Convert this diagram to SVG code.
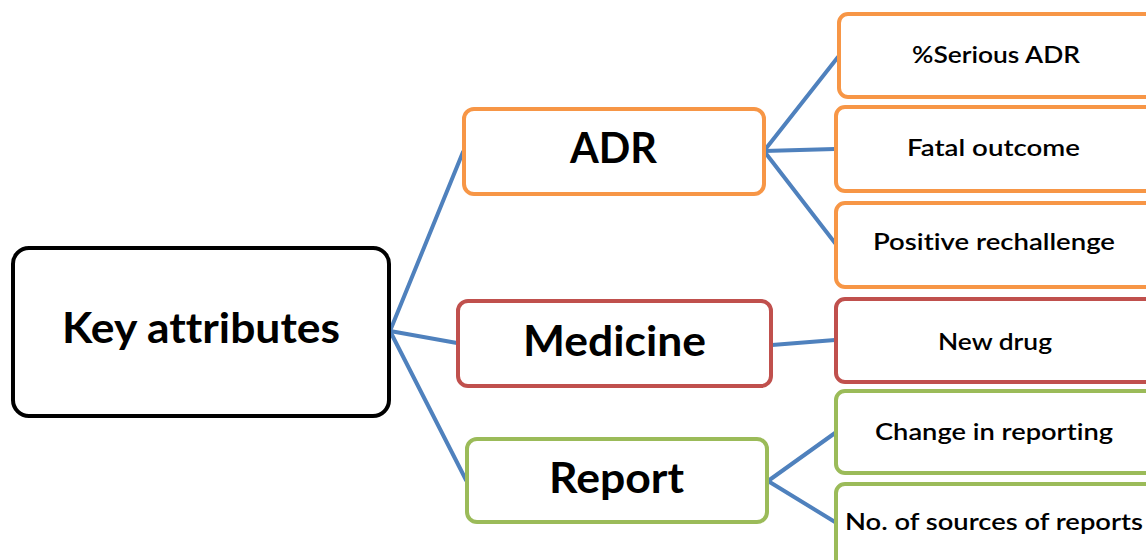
<svg xmlns="http://www.w3.org/2000/svg" width="1146" height="560" viewBox="0 0 1146 560">
<style>
.box{fill:#fff;stroke-width:4}
.k{stroke:#000}
.o{stroke:#F79646}
.r{stroke:#C0504D}
.g{stroke:#9BBB59}
text{font-variant-ligatures:none}
.t1{font-family:Lato,"Liberation Sans",sans-serif;font-weight:bold;fill:#000;text-anchor:middle;font-size:42px}
.t2{font-family:Lato,"Liberation Sans",sans-serif;font-weight:600;fill:#000;text-anchor:middle;font-size:23px}
#connectors line{stroke:#4F81BD;stroke-width:4;stroke-linecap:round}
</style>
<rect width="1146" height="560" fill="#fff"/>
<g id="connectors">
<line x1="390" y1="331" x2="463" y2="152"/>
<line x1="390" y1="331" x2="457" y2="343"/>
<line x1="390" y1="331" x2="466" y2="480"/>
<line x1="764" y1="151" x2="838" y2="57"/>
<line x1="764" y1="151" x2="835" y2="149"/>
<line x1="764" y1="151" x2="835" y2="243"/>
<line x1="772" y1="345" x2="835" y2="340"/>
<line x1="768" y1="481" x2="835" y2="433"/>
<line x1="768" y1="481" x2="835" y2="522"/>
</g>
<g id="key">
<rect class="box k" x="13" y="248" width="376" height="168" rx="16"/>
<text class="t1" x="201" y="343" textLength="278" lengthAdjust="spacingAndGlyphs">Key attributes</text>
</g>
<g id="adr">
<rect class="box o" x="464" y="109" width="300" height="85" rx="10"/>
<text class="t1" x="613.5" y="163" textLength="87" lengthAdjust="spacingAndGlyphs">ADR</text>
</g>
<g id="medicine">
<rect class="box r" x="458" y="301" width="313" height="85" rx="10"/>
<text class="t1" x="614.5" y="356" textLength="183" lengthAdjust="spacingAndGlyphs">Medicine</text>
</g>
<g id="report">
<rect class="box g" x="467" y="439" width="300" height="83" rx="10"/>
<text class="t1" x="616.5" y="493" textLength="135" lengthAdjust="spacingAndGlyphs">Report</text>
</g>
<g id="serious">
<rect class="box o" x="839" y="14" width="320" height="83" rx="9"/>
<text class="t2" x="996" y="63" textLength="168" lengthAdjust="spacingAndGlyphs">%Serious ADR</text>
</g>
<g id="fatal">
<rect class="box o" x="836" y="107" width="320" height="84" rx="9"/>
<text class="t2" x="993.5" y="156" textLength="173" lengthAdjust="spacingAndGlyphs">Fatal outcome</text>
</g>
<g id="positive">
<rect class="box o" x="836" y="203" width="320" height="84" rx="9"/>
<text class="t2" x="994" y="250" textLength="242" lengthAdjust="spacingAndGlyphs">Positive rechallenge</text>
</g>
<g id="newdrug">
<rect class="box r" x="836" y="299" width="320" height="83" rx="9"/>
<text class="t2" x="995" y="350" textLength="114" lengthAdjust="spacingAndGlyphs">New drug</text>
</g>
<g id="change">
<rect class="box g" x="836" y="391" width="320" height="82" rx="9"/>
<text class="t2" x="994" y="440" textLength="238" lengthAdjust="spacingAndGlyphs">Change in reporting</text>
</g>
<g id="sources">
<rect class="box g" x="836" y="484" width="320" height="90" rx="9"/>
<text class="t2" x="994" y="530" textLength="298" lengthAdjust="spacingAndGlyphs">No. of sources of reports</text>
</g>
</svg>
